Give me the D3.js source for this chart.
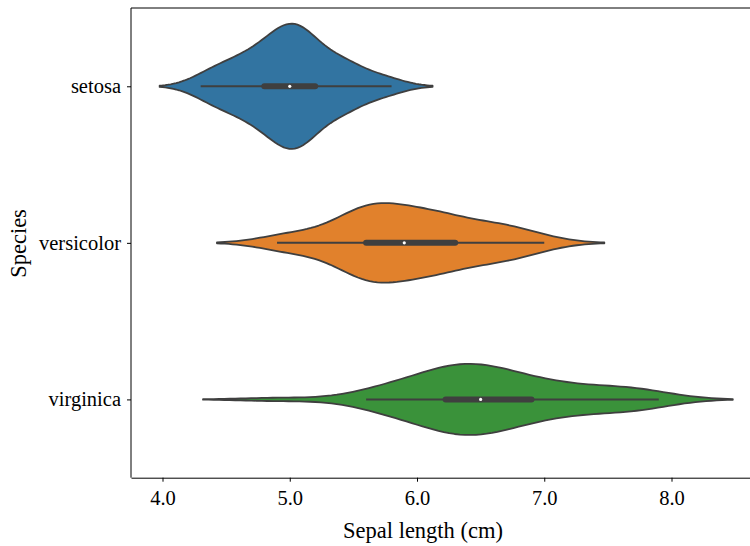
<!DOCTYPE html>
<html>
<head>
<meta charset="utf-8">
<script src="https://cdn.jsdelivr.net/npm/d3@7"></script>
<style>
  html, body { margin: 0; padding: 0; background: #fff; }
  svg { display: block; font-family: "Liberation Serif", "Times New Roman", serif; }
</style>
</head>
<body>
<svg id="chart" width="750" height="546"></svg>
<script>
// Iris sepal lengths (cm) per species
const categories = ["setosa", "versicolor", "virginica"];
const setosa = [5.1,4.9,4.7,4.6,5.0,5.4,4.6,5.0,4.4,4.9,5.4,4.8,4.8,4.3,5.8,5.7,5.4,5.1,5.7,5.1,5.4,5.1,4.6,5.1,4.8,5.0,5.0,5.2,5.2,4.7,4.8,5.4,5.2,5.5,4.9,5.0,5.5,4.9,4.4,5.1,5.0,4.5,4.4,5.0,5.1,4.8,5.1,4.6,5.3,5.0];
const versicolor = [7.0,6.4,6.9,5.5,6.5,5.7,6.3,4.9,6.6,5.2,5.0,5.9,6.0,6.1,5.6,6.7,5.6,5.8,6.2,5.6,5.9,6.1,6.3,6.1,6.4,6.6,6.8,6.7,6.0,5.7,5.5,5.5,5.8,6.0,5.4,6.0,6.7,6.3,5.6,5.5,5.5,6.1,5.8,5.0,5.6,5.7,5.7,6.2,5.1,5.7];
const virginica = [6.3,5.8,7.1,6.3,6.5,7.6,4.9,7.3,6.7,7.2,6.5,6.4,6.8,5.7,5.8,6.4,6.5,7.7,7.7,6.0,6.9,5.6,7.7,6.3,6.7,7.2,6.2,6.1,6.4,7.2,7.4,7.9,6.4,6.3,6.1,7.7,6.3,6.4,6.0,6.9,6.7,6.9,5.8,6.8,6.7,6.7,6.3,6.5,6.2,5.9];
const seriesValues = [setosa, versicolor, virginica];
const xTicks = [4.0, 5.0, 6.0, 7.0, 8.0];
const colors = ["#3274a1", "#e1812c", "#3a923a"];
const gray = "#3f3f3f";

(function () {
// KDE (Gaussian, Scott's rule) like seaborn
const cut = 2, gridsize = 100;
const dens = seriesValues.map(vals => {
  const n = vals.length;
  const bw = d3.deviation(vals) * Math.pow(n, -0.2);
  const lo = d3.min(vals) - cut * bw, hi = d3.max(vals) + cut * bw;
  const grid = d3.range(gridsize).map(i => lo + (hi - lo) * i / (gridsize - 1));
  const pts = grid.map(xv => {
    let s = 0;
    for (const v of vals) { const z = (xv - v) / bw; s += Math.exp(-0.5 * z * z); }
    return [xv, s / (n * bw * Math.sqrt(2 * Math.PI))];
  });
  const sorted = vals.slice().sort(d3.ascending);
  const q25 = d3.quantileSorted(sorted, 0.25), q50 = d3.quantileSorted(sorted, 0.5), q75 = d3.quantileSorted(sorted, 0.75);
  const iqr = q75 - q25;
  const wl = d3.min(sorted.filter(v => v >= q25 - 1.5 * iqr));
  const wh = d3.max(sorted.filter(v => v <= q75 + 1.5 * iqr));
  return { pts, lo, hi, q25, q50, q75, wl, wh };
});
const maxDens = d3.max(dens, d => d3.max(d.pts, p => p[1]));

// layout
const mLeft = 131, mTop = 8, mBottom = 477.7, pxPerUnit = 127.25;
const dataLo = d3.min(dens, d => d.lo), dataHi = d3.max(dens, d => d.hi);
const pad = (dataHi - dataLo) * 0.05;
const xDomain = [dataLo - pad, dataHi + pad];
const x = d3.scaleLinear().domain(xDomain).range([mLeft, mLeft + (xDomain[1] - xDomain[0]) * pxPerUnit]);
const y = d3.scaleLinear().domain([-0.5, 2.5]).range([mTop, mBottom]);
const halfW = 0.4;
const tickFont = 20.5, labelFont = 22.5;

const svg = d3.select("#chart");

// violins
categories.forEach((c, i) => {
  const d = dens[i];
  const area = d3.area()
    .x(p => x(p[0]))
    .y0(p => y(i - halfW * p[1] / maxDens))
    .y1(p => y(i + halfW * p[1] / maxDens));
  svg.append("path").datum(d.pts).attr("d", area)
    .attr("fill", colors[i]).attr("stroke", gray).attr("stroke-width", 1.8)
    .attr("stroke-linejoin", "round");
  svg.append("line").attr("x1", x(d.wl)).attr("x2", x(d.wh))
    .attr("y1", y(i)).attr("y2", y(i)).attr("stroke", gray).attr("stroke-width", 2);
  svg.append("line").attr("x1", x(d.q25)).attr("x2", x(d.q75))
    .attr("y1", y(i)).attr("y2", y(i)).attr("stroke", gray).attr("stroke-width", 6)
    .attr("stroke-linecap", "round");
  svg.append("circle").attr("cx", x(d.q50)).attr("cy", y(i)).attr("r", 1.6).attr("fill", "white");
});

// spines
svg.append("line").attr("x1", mLeft).attr("x2", 760).attr("y1", mTop).attr("y2", mTop).attr("stroke", "#000").attr("stroke-width", 1);
svg.append("line").attr("x1", mLeft).attr("x2", mLeft).attr("y1", mTop).attr("y2", mBottom).attr("stroke", "#000").attr("stroke-width", 1);

// x axis
const xAxis = d3.axisBottom(x).tickValues(xTicks).tickFormat(d3.format(".1f")).tickSizeOuter(0).tickSizeInner(4);
const gx = svg.append("g").attr("transform", `translate(0,${mBottom})`).call(xAxis);
gx.select(".domain").attr("stroke", "#000");
gx.selectAll(".tick line").attr("stroke", "#000");
gx.selectAll("text").attr("font-size", tickFont).attr("font-family", "Liberation Serif, serif")
  .attr("fill", "#000").attr("dy", null).attr("y", 27);

// y axis
const yBand = d3.scalePoint().domain(categories).range([y(0), y(2)]);
const yAxis = d3.axisLeft(yBand).tickSizeOuter(0).tickSizeInner(4).tickPadding(6);
const gy = svg.append("g").attr("transform", `translate(${mLeft},0)`).call(yAxis);
gy.select(".domain").remove();
gy.selectAll(".tick line").attr("stroke", "#000");
gy.selectAll("text").attr("font-size", tickFont).attr("font-family", "Liberation Serif, serif").attr("fill", "#000");

// axis labels
svg.append("text").attr("x", 423).attr("y", 538).attr("text-anchor", "middle")
  .attr("font-size", labelFont).text("Sepal length (cm)");
svg.append("text").attr("transform", `translate(25.5,243.5) rotate(-90)`)
  .attr("text-anchor", "middle").attr("font-size", labelFont).text("Species");
})();
</script>
</body>
</html>
